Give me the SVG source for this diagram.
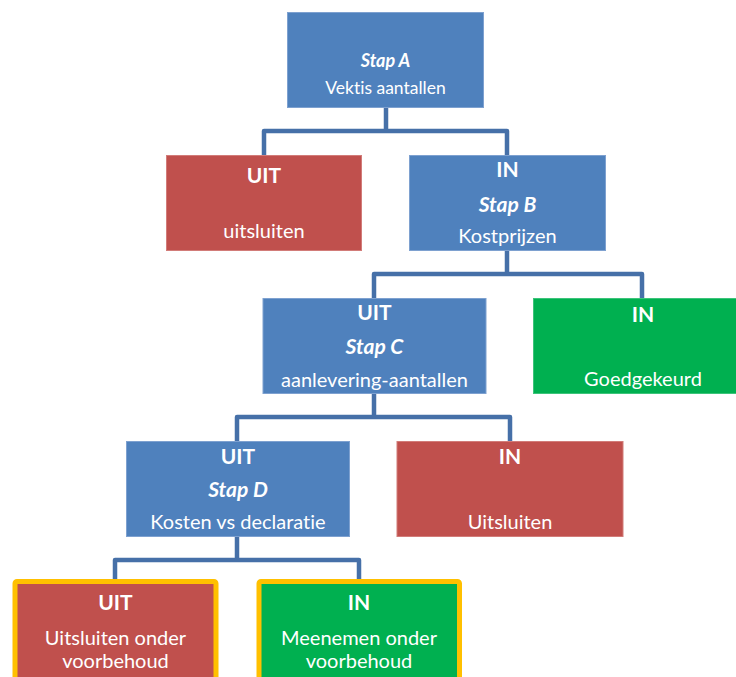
<svg xmlns="http://www.w3.org/2000/svg" width="736" height="677" viewBox="0 0 736 677">
<style>
  text { font-family: Lato, "Liberation Sans", Arial, sans-serif; fill: #ffffff; text-anchor: middle; font-variant-ligatures: none; font-feature-settings: "liga" 0, "dlig" 0, "clig" 0; }
  .h { font-size: 21px; font-weight: bold; }
  .s { font-size: 21px; font-weight: bold; font-style: italic; }
  .b { font-size: 20px; }
  .sa { font-size: 18px; font-weight: bold; font-style: italic; }
  .ba { font-size: 17.5px; }
  .blue { fill: #4F81BD; stroke: #7EA1D0; stroke-width: 1; }
  .red { fill: #C0504D; stroke: #D27C79; stroke-width: 1; }
  .green { fill: #00B050; stroke: #3CC47A; stroke-width: 1; }
  .hl { stroke: #FFC000; stroke-width: 5; stroke-linejoin: round; }
  .c { fill: none; stroke: #4670A8; stroke-width: 4.5; stroke-linejoin: round; }
</style>
<rect width="736" height="677" fill="#ffffff"/>
<g id="connectors">
  <path class="c" d="M386 108 V131 M264 155 V131 H507 V155"/>
  <path class="c" d="M507 250 V274 M374 298 V274 H642 V298"/>
  <path class="c" d="M374 393 V417 M237 441 V417 H510 V441"/>
  <path class="c" d="M237 537 V560 M115 580 V560 H359 V580"/>
</g>
<g id="stapA">
  <rect class="blue" x="287.5" y="12.5" width="196" height="95"/>
  <text class="sa" x="385.5" y="66.5">Stap A</text>
  <text class="ba" x="385.5" y="94">Vektis aantallen</text>
</g>
<g id="uit1">
  <rect class="red" x="166.5" y="155.5" width="195" height="95"/>
  <text class="h" x="264" y="183">UIT</text>
  <text class="b" x="264" y="238">uitsluiten</text>
</g>
<g id="stapB">
  <rect class="blue" x="409.5" y="155.5" width="196" height="95"/>
  <text class="h" x="507.5" y="177">IN</text>
  <text class="s" x="507.5" y="211.5">Stap B</text>
  <text class="b" x="507.5" y="243">Kostprijzen</text>
</g>
<g id="stapC">
  <rect class="blue" x="263" y="298.5" width="223" height="95"/>
  <text class="h" x="374.5" y="320">UIT</text>
  <text class="s" x="374.5" y="354">Stap C</text>
  <text class="b" x="374.5" y="386.5">aanlevering-aantallen</text>
</g>
<g id="goedgekeurd">
  <rect class="green" x="533.5" y="298.5" width="220" height="95"/>
  <text class="h" x="643" y="321.5">IN</text>
  <text class="b" x="643" y="385.5">Goedgekeurd</text>
</g>
<g id="stapD">
  <rect class="blue" x="126.5" y="441.5" width="223" height="95"/>
  <text class="h" x="238" y="463.5">UIT</text>
  <text class="s" x="238" y="496.5">Stap D</text>
  <text class="b" x="238" y="529">Kosten vs declaratie</text>
</g>
<g id="uitsluiten2">
  <rect class="red" x="397" y="441.5" width="226" height="95"/>
  <text class="h" x="510" y="463.5">IN</text>
  <text class="b" x="510" y="529">Uitsluiten</text>
</g>
<g id="uitOnderVoorbehoud">
  <rect class="red hl" x="15" y="581.5" width="201" height="105" rx="2"/>
  <text class="h" x="115.5" y="610">UIT</text>
  <text class="b" x="115.5" y="645">Uitsluiten onder</text>
  <text class="b" x="115.5" y="668">voorbehoud</text>
</g>
<g id="inOnderVoorbehoud">
  <rect class="green hl" x="259" y="581.5" width="200.5" height="105" rx="2"/>
  <text class="h" x="359" y="610">IN</text>
  <text class="b" x="359" y="645">Meenemen onder</text>
  <text class="b" x="359" y="668">voorbehoud</text>
</g>
</svg>
